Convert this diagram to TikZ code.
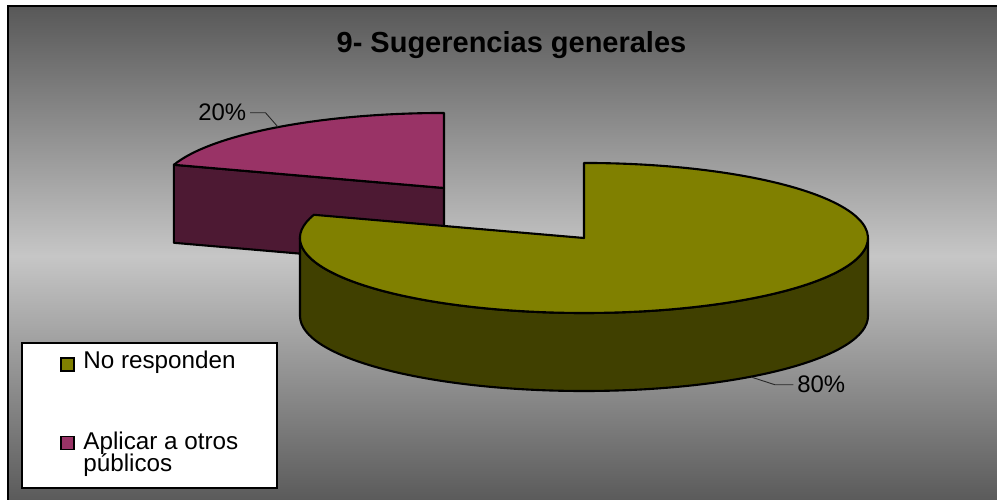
\documentclass[tikz,border=0pt]{standalone}
\usepackage{fontspec}
\setmainfont{Liberation Sans}
\usepackage{tikz}
\usetikzlibrary{calc}
\definecolor{olive_top}{RGB}{128, 128, 0}
\definecolor{olive_side}{RGB}{64, 64, 0}
\definecolor{plum_top}{RGB}{153, 51, 102}
\definecolor{plum_side}{RGB}{77, 25, 51}
\definecolor{bg_dark}{RGB}{88, 88, 88}
\definecolor{bg_light}{RGB}{198, 198, 198}
\tikzstyle{face}=[draw=black,line width=1.2pt,line join=round]
\tikzstyle{pct}=[inner sep=0pt,font=\fontsize{13.6}{16}\selectfont]
\tikzstyle{legtext}=[inner sep=0pt,font=\fontsize{13.8}{16}\selectfont]
\tikzstyle{swatch}=[rectangle,draw=black,line width=0.8pt,
  minimum width=0.26cm,minimum height=0.26cm,inner sep=0pt]
\tikzstyle{leader}=[draw=black!85,line width=0.5pt]
\tikzstyle{none}=[]

\begin{document}
\begin{tikzpicture}[x=0.02cm,y=0.02cm]
            \useasboundingbox (0,0) rectangle (997,500);
            \clip (0,0) rectangle (997,500);
            \fill [white] (0,0) rectangle (997,500);
            \path [draw=black, line width=1.1pt, top color=bg_dark, bottom color=bg_dark, middle color=bg_light] (8,-6) rectangle (1005,494);
            % pulled-out slice
            \path [style=face, fill=plum_side] (444,312) -- (173.9,335.2) -- (173.9,257.2) -- (444,234) -- cycle;
            \path [style=face, fill=plum_top] (444,312) -- (173.9,335.2) arc [start angle=162, end angle=90, x radius=284, y radius=75] -- cycle;
            % big slice
            \path [style=face, fill=olive_side] (300,262) arc [start angle=180, end angle=360, x radius=284, y radius=75] -- (868,184) arc [start angle=0, end angle=-180, x radius=284, y radius=75] -- cycle;
            \path [style=face, fill=olive_top] (584,262) -- (313.9,285.2) arc [start angle=162, end angle=450, x radius=284, y radius=75] -- cycle;
            \node [font=\bfseries\fontsize{16.5}{20}\selectfont, inner sep=0pt, anchor=base] (0) at (511.5, 447.3) {9- Sugerencias generales};
            \node [style=pct, anchor=base west] (1) at (198, 379) {20\%};
            \node [style=pct, anchor=base west] (2) at (797, 107) {80\%};
            \coordinate (3) at (278, 373);
            \coordinate (4) at (751, 123);
            \draw [style=leader, shorten <=2pt] (1.east) -- ++(19,0) -- (3);
            \draw [style=leader, shorten <=2pt] (2.west) -- ++(-22,0) -- (4);
            \node [draw=black, fill=white, line width=0.6pt, minimum width=5.1cm, minimum height=2.9cm, inner sep=0pt] (5) at (149.5, 84.5) {};
            \node [style=swatch, fill=olive_top] (6) at (67.5, 135.5) {};
            \node [style=legtext, anchor=base west] (7) at (83, 131) {No responden};
            \node [style=swatch, fill=plum_top] (8) at (67.5, 57) {};
            \node [style=legtext, anchor=base west] (9) at (83, 50) {Aplicar a otros};
            \node [style=legtext, anchor=base west] (10) at (83, 28) {públicos};
    \end{tikzpicture}
\end{document}
